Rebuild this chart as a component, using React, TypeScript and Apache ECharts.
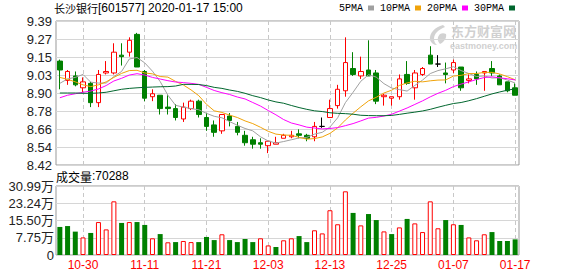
import React, { useEffect, useRef } from "react";
import * as echarts from "echarts";

const dates = [
  "10-25", "10-28", "10-29", "10-30", "10-31", "11-01", "11-04", "11-05", "11-06", "11-07",
  "11-08", "11-11", "11-12", "11-13", "11-14", "11-15", "11-18", "11-19", "11-20", "11-21",
  "11-22", "11-25", "11-26", "11-27", "11-28", "11-29", "12-02", "12-03", "12-04", "12-05",
  "12-06", "12-09", "12-10", "12-11", "12-12", "12-13", "12-16", "12-17", "12-18", "12-19",
  "12-20", "12-23", "12-24", "12-25", "12-26", "12-27", "12-30", "12-31", "01-02", "01-03",
  "01-06", "01-07", "01-08", "01-09", "01-10", "01-13", "01-14", "01-15", "01-16", "01-17",
];
const labelDates = ["10-30", "11-11", "11-21", "12-03", "12-13", "12-25", "01-07", "01-17"];

const openP = [
  9.12, 8.99, 9.02, 8.94, 8.97, 8.84, 9.04, 9.04, 9.16, 9.18,
  9.30, 9.05, 8.88, 8.89, 8.81, 8.80, 8.73, 8.80, 8.85, 8.74,
  8.69, 8.65, 8.75, 8.68, 8.62, 8.59, 8.57, 8.55, 8.56, 8.60,
  8.61, 8.63, 8.62, 8.61, 8.68, 8.74, 8.82, 8.92, 9.07, 9.02,
  9.06, 9.04, 8.88, 8.87, 8.88, 9.03, 8.94, 9.03, 9.16, 9.10,
  9.04, 9.06, 9.08, 8.99, 9.03, 9.04, 9.07, 9.02, 8.98, 8.94,
];
const closeP = [
  9.06, 9.05, 8.96, 8.98, 8.84, 9.03, 9.05, 9.18, 9.15, 9.26,
  9.08, 8.87, 8.90, 8.80, 8.80, 8.74, 8.81, 8.85, 8.76, 8.68,
  8.64, 8.76, 8.72, 8.64, 8.57, 8.56, 8.56, 8.58, 8.57, 8.62,
  8.62, 8.62, 8.60, 8.68, 8.68, 8.80, 8.93, 9.11, 9.03, 9.05,
  9.02, 8.85, 8.89, 8.88, 9.00, 8.97, 9.04, 9.07, 9.10, 9.10,
  9.03, 9.11, 8.94, 9.00, 9.00, 9.05, 9.04, 8.96, 8.92, 8.89,
];
const lowP = [
  8.93, 8.96, 8.95, 8.91, 8.81, 8.81, 9.03, 9.03, 9.09, 9.15,
  9.08, 8.85, 8.85, 8.76, 8.76, 8.72, 8.71, 8.79, 8.74, 8.65,
  8.61, 8.63, 8.68, 8.62, 8.55, 8.53, 8.53, 8.50, 8.56, 8.60,
  8.60, 8.60, 8.58, 8.58, 8.67, 8.74, 8.80, 8.88, 9.02, 9.00,
  9.02, 8.83, 8.82, 8.82, 8.86, 8.96, 8.86, 9.02, 9.10, 9.08,
  8.97, 9.04, 8.92, 8.97, 8.96, 8.92, 9.02, 8.96, 8.91, 8.89,
];
const highP = [
  9.13, 9.06, 9.05, 9.01, 8.98, 9.06, 9.12, 9.24, 9.24, 9.28,
  9.31, 9.06, 8.93, 8.89, 8.89, 8.83, 8.84, 8.86, 8.86, 8.77,
  8.72, 8.76, 8.77, 8.71, 8.65, 8.61, 8.60, 8.58, 8.61, 8.63,
  8.65, 8.66, 8.63, 8.71, 8.74, 8.86, 8.96, 9.28, 9.18, 9.15,
  9.26, 9.06, 8.90, 8.88, 9.03, 9.12, 9.06, 9.08, 9.22, 9.16,
  9.11, 9.13, 9.08, 9.03, 9.05, 9.05, 9.12, 9.03, 8.98, 8.97,
];

const ma5 = [
  8.97, 9.0, 9.01, 9.03, 8.978, 8.972, 8.972, 9.016, 9.05, 9.134,
  9.144, 9.108, 9.052, 8.982, 8.89, 8.822, 8.81, 8.8, 8.792, 8.768,
  8.748, 8.738, 8.712, 8.688, 8.666, 8.65, 8.61, 8.582, 8.568, 8.578,
  8.59, 8.602, 8.606, 8.628, 8.64, 8.676, 8.738, 8.84, 8.91, 8.984,
  9.028, 9.012, 8.968, 8.938, 8.928, 8.918, 8.956, 8.992, 9.036, 9.056,
  9.068, 9.082, 9.056, 9.036, 9.016, 9.02, 9.006, 9.008, 8.992, 8.972,
];
const ma10 = [
  9.01, 8.997, 8.98, 8.96, 8.948, 8.96, 8.98, 9.01, 9.037, 9.056,
  9.058, 9.04, 9.034, 9.016, 9.012, 8.983, 8.959, 8.926, 8.887, 8.829,
  8.785, 8.774, 8.756, 8.74, 8.717, 8.699, 8.674, 8.647, 8.628, 8.622,
  8.62, 8.606, 8.594, 8.598, 8.609, 8.633, 8.67, 8.723, 8.769, 8.812,
  8.852, 8.876, 8.905, 8.924, 8.956, 8.973, 8.984, 8.98, 8.987, 8.992,
  8.993, 9.019, 9.024, 9.036, 9.036, 9.044, 9.044, 9.033, 9.015, 8.994,
];
const ma20 = [
  8.873, 8.89, 8.9, 8.91, 8.918, 8.932, 8.955, 8.986, 9.004, 9.026,
  9.035, 9.026, 9.01, 8.999, 8.988, 8.979, 8.975, 8.97, 8.963, 8.943,
  8.922, 8.907, 8.895, 8.878, 8.865, 8.841, 8.817, 8.787, 8.758, 8.726,
  8.703, 8.69, 8.675, 8.669, 8.663, 8.666, 8.672, 8.685, 8.699, 8.717,
  8.736, 8.741, 8.75, 8.762, 8.783, 8.804, 8.828, 8.852, 8.879, 8.903,
  8.923, 8.948, 8.965, 8.98, 8.996, 9.009, 9.014, 9.007, 9.001, 8.993,
];
const ma30 = [
  8.905, 8.905, 8.905, 8.903, 8.903, 8.905, 8.91, 8.92, 8.93, 8.936,
  8.94, 8.943, 8.945, 8.947, 8.948, 8.952, 8.963, 8.963, 8.962, 8.955,
  8.943, 8.936, 8.925, 8.916, 8.903, 8.887, 8.874, 8.858, 8.845, 8.836,
  8.821, 8.807, 8.795, 8.785, 8.78, 8.772, 8.768, 8.766, 8.762, 8.755,
  8.753, 8.752, 8.752, 8.754, 8.761, 8.769, 8.776, 8.784, 8.795, 8.809,
  8.822, 8.834, 8.841, 8.853, 8.867, 8.883, 8.899, 8.912, 8.924, 8.933,
];

// volume in 万 (10k)
const volumes = [
  12.6, 13.0, 10.5, 7.9, 9.9, 14.8, 11.5, 24.1, 14.4, 14.8,
  14.8, 13.5, 7.5, 9.4, 5.7, 5.8, 6.3, 5.8, 5.8, 8.1,
  6.7, 9.3, 6.7, 5.8, 7.2, 5.8, 7.5, 4.3, 3.6, 6.6,
  7.5, 8.5, 5.8, 11.1, 9.7, 20.1, 13.8, 28.6, 18.9, 13.3,
  18.4, 15.7, 10.6, 9.4, 12.4, 16.2, 14.2, 10.3, 24.1, 12.0,
  15.7, 13.8, 13.5, 7.9, 6.6, 9.3, 10.3, 6.3, 6.3, 7.0288,
];
// 1 = up day (red hollow bar), 0 = down day (green bar)
const volUp = [
  0, 0, 0, 1, 0, 1, 1, 1, 0, 1,
  0, 0, 1, 0, 1, 0, 1, 1, 0, 0,
  0, 1, 0, 0, 0, 0, 1, 1, 0, 1,
  1, 0, 0, 1, 1, 1, 1, 1, 0, 1,
  0, 0, 1, 0, 1, 0, 1, 1, 1, 1,
  0, 1, 0, 1, 1, 1, 0, 0, 0, 0,
];

const priceTicks = ["8.42", "8.54", "8.66", "8.78", "8.90", "9.03", "9.15", "9.27", "9.39"];
const volTicks = ["0", "7.75万", "15.50万", "23.24万", "30.99万"];
const maNames = ["5PMA", "10PMA", "20PMA", "30PMA"];
const maColors = ["#a0a0a0", "#f0a30a", "#ff00ff", "#00662e"];

const PRICE_MIN = 8.42;
const PRICE_MAX = 9.39;
const PRICE_STEP = 0.12125;
const VOL_MAX = 30.99;
const VOL_STEP = 7.7475;

const RED = "#ff0000";
const GREEN = "#008000";

const LOGO_D =
  "M15 0 C7 2 1 8 2 15 C3 18 6 20 9 20 C5 17 5 11 9 7 C11 5 14 3 17 2 Z M12 9 C9 12 9 16 12 19 C16 17 19 13 18 9 C16 8 14 8 12 9 Z";

export default function App() {
  const ref = useRef<HTMLDivElement>(null);

  useEffect(() => {
    document.body.style.margin = "0";
    if (!ref.current) return;
    echarts.graphic.registerShape("emLogo", (echarts.graphic as any).extendPath(LOGO_D, {}));
    const chart = echarts.init(ref.current, null, { renderer: "svg" });

    const maSeries = [ma5, ma10, ma20, ma30].map((d, k) => ({
      name: maNames[k],
      type: "line",
      xAxisIndex: 0,
      yAxisIndex: 0,
      data: d,
      symbol: "none",
      showSymbol: false,
      smooth: false,
      color: maColors[k],
      itemStyle: { color: maColors[k] },
      lineStyle: { width: 1, color: maColors[k] },
      emphasis: { disabled: true },
      z: 3,
    }));

    const candleData = dates.map((_, i) => {
      const v = [openP[i], closeP[i], lowP[i], highP[i]];
      if (openP[i] === closeP[i]) {
        return {
          value: v,
          itemStyle: { color: "#000", color0: "#000", borderColor: "#000", borderColor0: "#000" },
        };
      }
      return v;
    });

    const volData = volumes.map((v, i) => ({
      value: v,
      itemStyle: volUp[i]
        ? { color: "#ffffff", borderColor: RED, borderWidth: 1 }
        : { color: GREEN, borderColor: GREEN, borderWidth: 0 },
    }));

    const splitInterval = (_: number, value: string) => labelDates.indexOf(value) >= 0;

    const option: any = {
      animation: false,
      backgroundColor: "#ffffff",
      title: [
        {
          text: "{c|长沙银行}{m|[601577] 2020-01-17 15:00}",
          left: 54,
          top: 2,
          padding: 0,
          textStyle: {
            fontWeight: "normal",
            rich: {
              c: { fontFamily: "Noto Sans CJK SC", fontSize: 11, fontWeight: "normal", color: "#000" },
              m: { fontFamily: "Liberation Sans", fontSize: 12, fontWeight: "normal", color: "#000" },
            },
          },
        },
        {
          text: `{c|成交量}{m|:${Math.round(volumes[volumes.length - 1] * 10000)}}`,
          left: 56,
          top: 170,
          padding: 0,
          textStyle: {
            fontWeight: "normal",
            rich: {
              c: { fontFamily: "Noto Sans CJK SC", fontSize: 12, fontWeight: "normal", color: "#000" },
              m: { fontFamily: "Liberation Sans", fontSize: 12, fontWeight: "normal", color: "#000" },
            },
          },
        },
      ],
      legend: {
        data: maNames,
        left: 339,
        top: 3,
        padding: 0,
        align: "right",
        icon: "rect",
        itemWidth: 6,
        itemHeight: 5,
        itemGap: 6,
        selectedMode: false,
        textStyle: { fontFamily: "Liberation Mono", fontSize: 10, color: "#000" },
      },
      grid: [
        { left: 56, top: 21, width: 463, height: 144, show: true, borderColor: "#999", borderWidth: 1, backgroundColor: "transparent" },
        { left: 56, top: 186, width: 463, height: 69, show: true, borderColor: "#999", borderWidth: 1, backgroundColor: "transparent" },
      ],
      xAxis: [
        {
          type: "category",
          gridIndex: 0,
          data: dates,
          boundaryGap: true,
          axisLine: { show: false },
          axisTick: { show: false },
          axisLabel: { show: false },
          splitLine: {
            show: true,
            alignWithLabel: true,
            interval: splitInterval,
            lineStyle: { color: "#c8c8c8", type: [4, 3], width: 1 },
          },
        },
        {
          type: "category",
          gridIndex: 1,
          data: dates,
          boundaryGap: true,
          axisLine: { show: false },
          axisTick: { show: false },
          axisLabel: {
            show: true,
            interval: splitInterval,
            color: RED,
            fontFamily: "Liberation Sans",
            fontSize: 12,
            margin: 4,
          },
          splitLine: {
            show: true,
            alignWithLabel: true,
            interval: splitInterval,
            lineStyle: { color: "#c8c8c8", type: [4, 3], width: 1 },
          },
        },
      ],
      yAxis: [
        {
          type: "value",
          gridIndex: 0,
          min: PRICE_MIN,
          max: PRICE_MAX,
          interval: PRICE_STEP,
          axisLine: { show: false },
          axisTick: { show: false },
          axisLabel: {
            formatter: (v: number) => priceTicks[Math.round((v - PRICE_MIN) / PRICE_STEP)] ?? "",
            fontFamily: "Liberation Sans",
            fontSize: 13,
            color: "#222",
            margin: 4,
          },
          splitLine: { show: true, lineStyle: { color: "#d6d6d6", width: 1 } },
        },
        {
          type: "value",
          gridIndex: 1,
          min: 0,
          max: VOL_MAX,
          interval: VOL_STEP,
          axisLine: { show: false },
          axisTick: { show: false },
          axisLabel: {
            formatter: (v: number) => volTicks[Math.round(v / VOL_STEP)] ?? "",
            fontFamily: "Liberation Sans, Noto Sans CJK SC",
            fontSize: 13,
            color: "#222",
            margin: 2,
          },
          splitLine: { show: true, lineStyle: { color: "#d6d6d6", width: 1 } },
        },
      ],
      graphic: [
        {
          type: "group",
          silent: true,
          z: 0,
          children: [
            {
              type: "emLogo",
              x: 428,
              y: 25,
              scaleX: 1,
              scaleY: 1,
              style: { fill: "#d2d2d2" },
            },
            {
              type: "text",
              x: 451,
              y: 24,
              style: {
                text: "东方财富网",
                font: "bold 13px 'Noto Sans CJK SC'",
                fill: "#d0d0d0",
                verticalAlign: "top",
              },
            },
            {
              type: "text",
              x: 450,
              y: 41,
              style: {
                text: "eastmoney.com",
                font: "bold 9px 'Liberation Sans'",
                fill: "#d0d0d0",
                verticalAlign: "top",
              },
            },
          ],
        },
      ],
      series: [
        {
          name: "K",
          type: "candlestick",
          xAxisIndex: 0,
          yAxisIndex: 0,
          data: candleData,
          barWidth: 5,
          itemStyle: {
            color: "#ffffff",
            color0: GREEN,
            borderColor: RED,
            borderColor0: GREEN,
            borderColorDoji: "#000",
            borderWidth: 1,
          },
          emphasis: { disabled: true },
          z: 2,
        },
        ...maSeries,
        {
          name: "VOL",
          type: "bar",
          xAxisIndex: 1,
          yAxisIndex: 1,
          data: volData,
          barWidth: 5,
          emphasis: { disabled: true },
        },
      ],
    };

    chart.setOption(option);
    return () => chart.dispose();
  }, []);

  return <div ref={ref} style={{ width: 578, height: 276 }} />;
}
